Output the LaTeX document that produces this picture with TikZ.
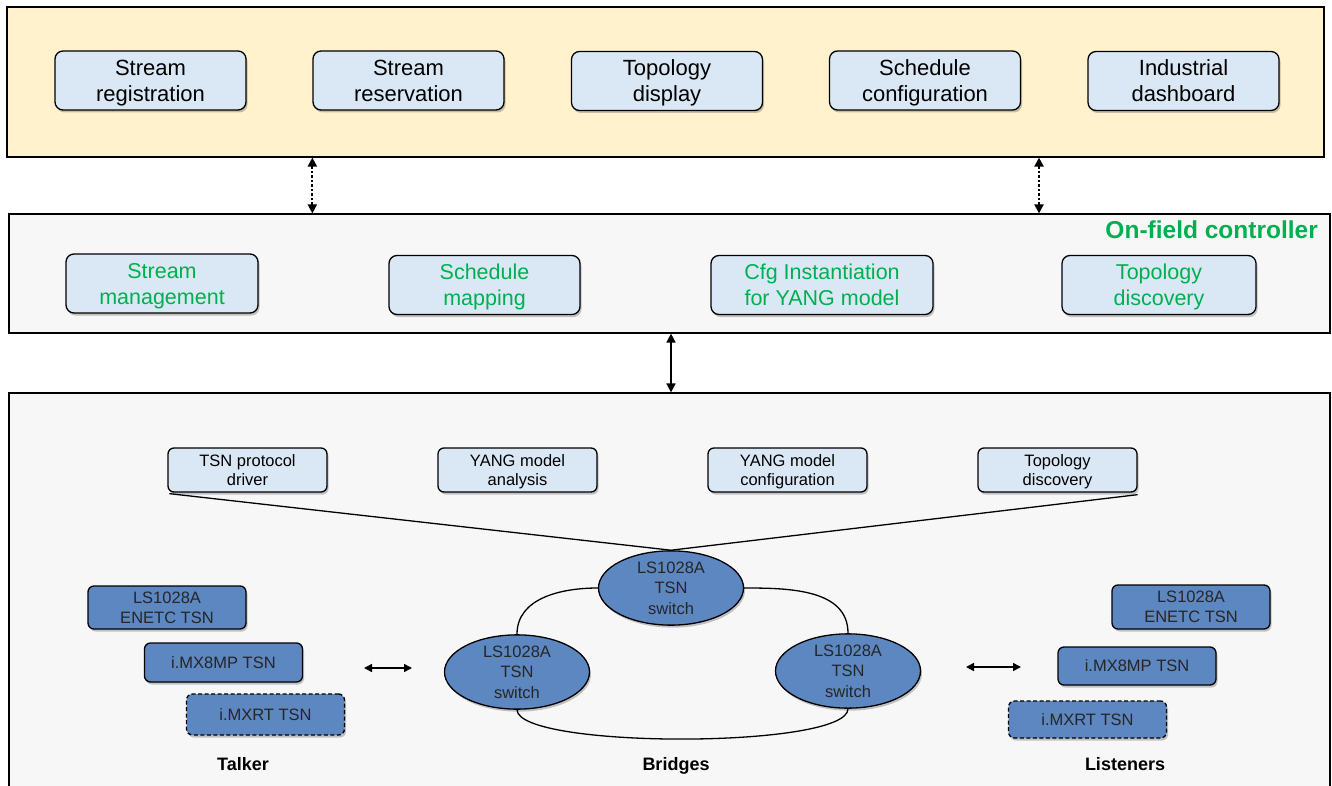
\documentclass[tikz,border=0pt]{standalone}
\usepackage{fontspec}
\setmainfont{Liberation Sans}
\usetikzlibrary{shapes.geometric,arrows.meta,shadows}
\definecolor{cTop}{HTML}{FFF2CC}
\definecolor{cBox}{HTML}{DAE8F5}
\definecolor{cDark}{HTML}{5D87C0}
\definecolor{cGreen}{HTML}{00B050}
\definecolor{cPanel}{HTML}{F7F7F7}
\begin{document}
\begin{tikzpicture}[x=1pt,y=-1pt,
  panel/.style={draw, line width=1.2pt, inner sep=0pt},
  shad/.style={drop shadow={shadow xshift=1.5pt, shadow yshift=-2.5pt, opacity=0.22, fill=black}},
  lbox/.style={draw, line width=1.3pt, rounded corners=8pt, fill=cBox, shad, align=center, inner sep=0pt, text depth=0pt},
  topbox/.style={lbox, minimum width=191pt, minimum height=59pt, font=\fontsize{22}{26}\selectfont},
  midbox/.style={lbox, minimum height=59pt, text=cGreen, font=\fontsize{21.5}{26}\selectfont},
  smallbox/.style={lbox, rounded corners=6pt, minimum width=159pt, minimum height=44pt, font=\fontsize{16.5}{19}\selectfont},
  dev/.style={draw, line width=1.3pt, rounded corners=6pt, fill=cDark, shad, minimum width=158pt, align=center, inner sep=0pt, text depth=-2pt, font=\fontsize{16.5}{20}\selectfont, text=black!85},
  sw/.style={ellipse, draw, line width=1.3pt, fill=cDark, shad, minimum width=145pt, minimum height=66pt, inner sep=0pt, align=center, text depth=-4pt, font=\fontsize{16.5}{20.5}\selectfont, text=black!85},
  lbl/.style={font=\bfseries\fontsize{18}{20}\selectfont, anchor=base, inner sep=0pt},
  dotarrow/.style={line width=2.2pt, dash pattern=on 2.5pt off 2pt, {Triangle[width=9pt,length=9pt]}-{Triangle[width=9pt,length=9pt]}},
  solidarrow/.style={line width=1.6pt, {Triangle[width=9pt,length=9pt]}-{Triangle[width=9pt,length=9pt]}},
  sidearrow/.style={line width=1.5pt, {Triangle[width=8pt,length=8pt]}-{Triangle[width=8pt,length=8pt]}},
  link/.style={line width=1.3pt}
]
\useasboundingbox (0,0) rectangle (1332,786);
\fill[white] (0,0) rectangle (1332,786);

% panels
\node[panel, fill=cTop, minimum width=1317pt, minimum height=150pt] (top) at (665.5,82) {};
\node[panel, fill=cPanel, minimum width=1321pt, minimum height=119pt] (mid) at (669.5,273.5) {};
\node[panel, fill=cPanel, minimum width=1321pt, minimum height=400pt] (bot) at (669.5,593) {};

% top boxes
\node[topbox] (t1) at (150.5,80.5) {Stream\\registration};
\node[topbox] (t2) at (408.5,80.5) {Stream\\reservation};
\node[topbox] (t3) at (667,81) {Topology\\display};
\node[topbox] (t4) at (925,80.5) {Schedule\\configuration};
\node[topbox] (t5) at (1183.5,81) {Industrial\\dashboard};

% middle
\node[font=\bfseries\fontsize{24.5}{28}\selectfont, text=cGreen, anchor=east, inner sep=0pt] (ctl) at (1318,230) {On-field controller};
\node[midbox, minimum width=192pt] (m1) at (162,283.5) {Stream\\management};
\node[midbox, minimum width=191pt] (m2) at (484.5,285) {Schedule\\mapping};
\node[midbox, minimum width=222pt] (m3) at (822,285) {Cfg Instantiation\\for YANG model};
\node[midbox, minimum width=194pt] (m4) at (1159,285) {Topology\\discovery};

% connectors between panels
\draw[dotarrow] (top.south -| t2.west) -- (mid.north -| t2.west);
\draw[dotarrow] (top.south -| 1039,0) -- (mid.north -| 1039,0);
\draw[solidarrow] (mid.south -| 671,0) -- (bot.north -| 671,0);

% small boxes
\node[smallbox] (s1) at (247.5,470) {TSN protocol\\driver};
\node[smallbox] (s2) at (517.5,470) {YANG model\\analysis};
\node[smallbox] (s3) at (787.5,470) {YANG model\\configuration};
\node[smallbox] (s4) at (1057.5,470) {Topology\\discovery};

% switches
\node[sw] (sw1) at (671,588) {LS1028A\\TSN\\switch};
\node[sw] (sw2) at (517,672) {LS1028A\\TSN\\switch};
\node[sw] (sw3) at (848,671) {LS1028A\\TSN\\switch};

\draw[link] (s1.south west) ++(2,1) coordinate (a1) (a1) -- (sw1.north);
\draw[link] (s4.south east) ++(0,2) coordinate (a4) (a4) -- (sw1.north);
\draw[link] (sw1.west) to[out=180,in=90] (sw2.north);
\draw[link] (sw1.east) to[out=0,in=90] (sw3.north);
\draw[link] (sw2.south) .. controls (518,749) and (848,749) .. (sw3.south);

% talkers
\node[dev, minimum height=43pt] (tk1) at (167,607.5) {LS1028A\\ENETC TSN};
\node[dev, minimum height=39pt] (tk2) at (223.5,662.5) {i.MX8MP TSN};
\node[dev, minimum height=41pt, dashed, dash pattern=on 4pt off 2.5pt] (tk3) at (265.5,714.5) {i.MXRT TSN};

% listeners
\node[dev, minimum height=44pt] (ls1) at (1191,607) {LS1028A\\ENETC TSN};
\node[dev, minimum height=38pt] (ls2) at (1137,666) {i.MX8MP TSN};
\node[dev, minimum height=37pt, dashed, dash pattern=on 4pt off 2.5pt] (ls3) at (1087.5,719.5) {i.MXRT TSN};

% side arrows
\coordinate (ta) at (364,668);
\coordinate (tb) at (412,668);
\draw[sidearrow] (ta) -- (tb);
\coordinate (la) at (966,667);
\coordinate (lb) at (1021,667);
\draw[sidearrow] (la) -- (lb);

% labels
\node[lbl] (lt) at (243,770.5) {Talker};
\node[lbl] (lbr) at (676,770.5) {Bridges};
\node[lbl] (lls) at (1125,770.5) {Listeners};
\end{tikzpicture}
\end{document}
